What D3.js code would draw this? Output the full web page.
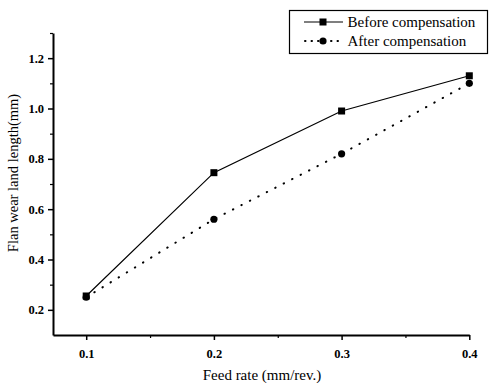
<!DOCTYPE html>
<html>
<head>
<meta charset="utf-8">
<script src="https://cdn.jsdelivr.net/npm/d3@7"></script>
<style>
  body { margin: 0; background: #fff; }
  text { font-family: "Liberation Serif", "DejaVu Serif", serif; fill: #000; }
</style>
</head>
<body>
<div id="my_dataviz"></div>
<script>
var feedRate = [0.1, 0.2, 0.3, 0.4];
var beforeComp = [0.255, 0.745, 0.99, 1.13];
var afterComp = [0.25, 0.56, 0.82, 1.10];
var xTicks = [0.1, 0.2, 0.3, 0.4];
var xMinor = [0.15, 0.25, 0.35];
var yTicks = [0.2, 0.4, 0.6, 0.8, 1.0, 1.2];
var yMinor = [0.3, 0.5, 0.7, 0.9, 1.1, 1.3];

var W = 489, H = 383;
var serif = "'Liberation Serif', 'DejaVu Serif', serif";
var margin = {top: 33, right: 20, bottom: 48, left: 53},
    width = 469.3 - margin.left,
    height = 335 - margin.top;

var svg = d3.select("#my_dataviz")
  .append("svg")
    .attr("width", W)
    .attr("height", H)
  .append("g")
    .attr("transform", "translate(" + margin.left + "," + margin.top + ")");

var x = d3.scaleLinear()
    .domain([0.074, 0.4])
    .range([0, width]);

var y = d3.scaleLinear()
    .domain([0.1, 1.3])
    .range([height, 0]);

// X axis
var xAxis = svg.append("g")
    .attr("transform", "translate(0," + height + ")")
    .call(d3.axisBottom(x).tickValues(xTicks).tickSize(5).tickSizeOuter(0)
        .tickFormat(d3.format(".1f")));
xAxis.attr("font-family", serif);
xAxis.select(".domain").attr("stroke-width", 2);
xAxis.selectAll(".tick line").attr("stroke-width", 1.5);
xAxis.selectAll("text")
    .attr("dy", "1.2em")
    .style("font-family", serif)
    .style("font-size", "12.5px")
    .style("font-weight", "bold");
svg.append("g")
    .attr("transform", "translate(0," + height + ")")
    .call(d3.axisBottom(x).tickValues(xMinor).tickSize(3).tickSizeOuter(0).tickFormat(""))
    .call(function(g) { g.select(".domain").remove(); })
    .selectAll(".tick line").attr("stroke-width", 1.2);

// Y axis
var yAxis = svg.append("g")
    .call(d3.axisLeft(y).tickValues(yTicks).tickSize(5).tickSizeOuter(0)
        .tickFormat(d3.format(".1f")));
yAxis.attr("font-family", serif);
yAxis.select(".domain").attr("stroke-width", 2);
yAxis.selectAll(".tick line").attr("stroke-width", 1.5);
yAxis.selectAll("text")
    .attr("x", -9)
    .style("font-family", serif)
    .style("font-size", "12.5px")
    .style("font-weight", "bold");
svg.append("g")
    .call(d3.axisLeft(y).tickValues(yMinor).tickSize(3).tickSizeOuter(0).tickFormat(""))
    .call(function(g) { g.select(".domain").remove(); })
    .selectAll(".tick line").attr("stroke-width", 1.2);

// Axis labels
svg.append("text")
    .attr("x", 262 - margin.left)
    .attr("y", 380 - margin.top)
    .attr("text-anchor", "middle")
    .style("font-size", "15px")
    .text("Feed rate (mm/rev.)");

svg.append("text")
    .attr("x", -(173 - margin.top))
    .attr("y", 18 - margin.left)
    .attr("transform", "rotate(-90)")
    .attr("text-anchor", "middle")
    .style("font-size", "14.5px")
    .text("Flan wear land length(mm)");

var before = feedRate.map(function(d, i) { return {x: d, y: beforeComp[i]}; });
var after = feedRate.map(function(d, i) { return {x: d, y: afterComp[i]}; });

var line = d3.line()
    .x(function(d) { return x(d.x); })
    .y(function(d) { return y(d.y); });

svg.append("path")
    .datum(after)
    .attr("fill", "none")
    .attr("stroke", "#000")
    .attr("stroke-width", 2)
    .attr("stroke-linecap", "round")
    .attr("stroke-dasharray", "0.5,9")
    .attr("d", line);

svg.append("path")
    .datum(before)
    .attr("fill", "none")
    .attr("stroke", "#000")
    .attr("stroke-width", 1.2)
    .attr("d", line);

svg.append("g")
    .selectAll("rect")
    .data(before)
    .enter()
    .append("rect")
      .attr("x", function(d) { return x(d.x) - 3.5; })
      .attr("y", function(d) { return y(d.y) - 3.5; })
      .attr("width", 7)
      .attr("height", 7)
      .attr("fill", "#000");

svg.append("g")
    .selectAll("circle")
    .data(after)
    .enter()
    .append("circle")
      .attr("cx", function(d) { return x(d.x); })
      .attr("cy", function(d) { return y(d.y); })
      .attr("r", 3.6)
      .attr("fill", "#000");

// Legend
var lg = d3.select("svg").append("g");
lg.append("rect")
    .attr("x", 289.5)
    .attr("y", 10.5)
    .attr("width", 198)
    .attr("height", 43)
    .attr("fill", "#fff")
    .attr("stroke", "#000")
    .attr("stroke-width", 1.2);

lg.append("line")
    .attr("x1", 304).attr("x2", 343)
    .attr("y1", 22).attr("y2", 22)
    .attr("stroke", "#000").attr("stroke-width", 1.2);
lg.append("rect")
    .attr("x", 319.5).attr("y", 18.5)
    .attr("width", 7).attr("height", 7)
    .attr("fill", "#000");
lg.append("text")
    .attr("x", 347.5).attr("y", 27)
    .style("font-size", "15px")
    .text("Before compensation");

lg.append("line")
    .attr("x1", 305).attr("x2", 343)
    .attr("y1", 41).attr("y2", 41)
    .attr("stroke", "#000").attr("stroke-width", 2)
    .attr("stroke-linecap", "round")
    .attr("stroke-dasharray", "0.5,6");
lg.append("circle")
    .attr("cx", 323).attr("cy", 41)
    .attr("r", 3.6)
    .attr("fill", "#000");
lg.append("text")
    .attr("x", 347.5).attr("y", 46)
    .style("font-size", "15px")
    .text("After compensation");
</script>
</body>
</html>
